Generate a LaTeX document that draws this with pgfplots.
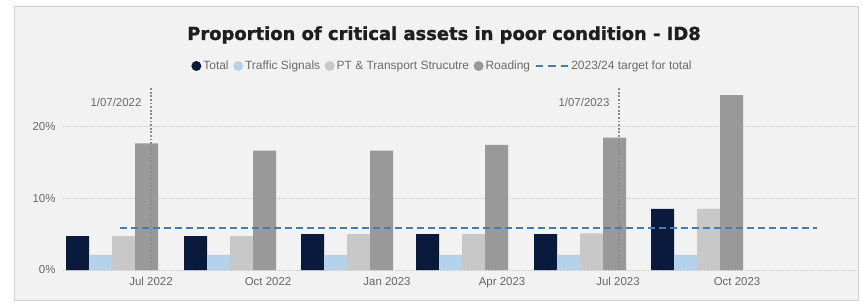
\documentclass[border=0pt]{standalone}
\usepackage{fontspec}
\setmainfont{Liberation Sans}
\newfontfamily\titlefont{DejaVu Sans Bold}[FakeBold=1.2]
\usepackage{pgfplots}
\pgfplotsset{compat=1.18}
\definecolor{bgc}{HTML}{F2F2F2}
\definecolor{framec}{HTML}{CFCFCF}
\definecolor{totalc}{HTML}{0A1A3C}
\definecolor{trafficc}{HTML}{B4D3EA}
\definecolor{ptc}{HTML}{C8C8C8}
\definecolor{roadc}{HTML}{999999}
\definecolor{targetc}{HTML}{3F7DB3}
\definecolor{gridc}{HTML}{D0D0D0}
\definecolor{tickc}{HTML}{666666}
\definecolor{vlinec}{HTML}{8C8C8C}
\definecolor{titlec}{HTML}{1E1E1E}
\definecolor{legc}{HTML}{6A6A6A}
\begin{document}
\begin{tikzpicture}[x=1bp,y=1bp]
\fill[white] (0,0) rectangle (863,-306);
\filldraw[fill=bgc, draw=framec, line width=1bp] (14,-6) rectangle (858,-300);
\node[font=\titlefont\fontsize{18}{21}\selectfont, text=titlec] at (444,-35) {Proportion of critical assets in poor condition - ID8};
\begin{axis}[
  at={(62bp,-270bp)}, anchor=south west,
  scale only axis, width=796bp, height=182bp,
  xmin=62, xmax=858, ymin=0, ymax=25.3,
  clip=false,
  axis line style={draw=none}, tick style={draw=none}, major tick length=0pt,
  xtick={151,268,387,502,618,737},
  xticklabels={Jul 2022,Oct 2022,Jan 2023,Apr 2023,Jul 2023,Oct 2023},
  ytick={0,10,20}, yticklabels={0\%,10\%,20\%},
  ymajorgrids, grid style={dash pattern=on 1.5bp off 1.5bp, color=gridc, line width=1bp},
  tick label style={font=\fontsize{11.5}{13}\selectfont, text=tickc},
  xticklabel style={yshift=-4bp},
  yticklabel style={xshift=-3bp},
  legend columns=-1,
  legend style={at={(0.478,1.121)}, anchor=center, draw=none, fill=none,
    font=\fontsize{12}{14}\selectfont, text=legc,
    /tikz/every even column/.append style={column sep=2.5bp}},
]
\addplot[ybar, bar width=23, bar shift=-34.5, fill=totalc, draw=none,
  legend image code/.code={\fill[totalc] (0,0) circle (5bp);}]
  coordinates {(112,4.7) (230,4.7) (347,5.0) (462,5.0) (580,5.0) (697,8.5)};
\addplot[ybar, bar width=23, bar shift=-11.5, fill=trafficc, draw=none,
  legend image code/.code={\fill[trafficc] (0,0) circle (5bp);}]
  coordinates {(112,2.1) (230,2.1) (347,2.1) (462,2.1) (580,2.1) (697,2.1)};
\addplot[ybar, bar width=23, bar shift=11.5, fill=ptc, draw=none,
  legend image code/.code={\fill[ptc] (0,0) circle (5bp);}]
  coordinates {(112,4.7) (230,4.7) (347,5.0) (462,5.0) (580,5.1) (697,8.5)};
\addplot[ybar, bar width=23, bar shift=34.5, fill=roadc, draw=none,
  legend image code/.code={\fill[roadc] (0,0) circle (5bp);}]
  coordinates {(112,17.6) (230,16.6) (347,16.6) (462,17.4) (580,18.4) (697,24.3)};
\addplot[color=targetc, line width=2.2bp, dash pattern=on 7bp off 4bp,
  legend image code/.code={\draw[targetc, line width=2.2bp, dash pattern=on 7.5bp off 5bp] (0,0) -- (32.5bp,0);}]
  coordinates {(120,5.8) (817,5.8)};
\addplot[forget plot, color=vlinec, line width=1.8bp, dash pattern=on 1.8bp off 1.8bp]
  coordinates {(151,0) (151,25.3)};
\addplot[forget plot, color=vlinec, line width=1.8bp, dash pattern=on 1.8bp off 1.8bp]
  coordinates {(619,0) (619,25.3)};
\node[anchor=east, font=\fontsize{11.5}{13}\selectfont, text=legc] at (axis cs:145,23.3) {1/07/2022};
\node[anchor=east, font=\fontsize{11.5}{13}\selectfont, text=legc] at (axis cs:613,23.3) {1/07/2023};
\legend{Total,Traffic Signals,PT \& Transport Strucutre,Roading,2023/24 target for total}
\end{axis}
\pgfresetboundingbox
\useasboundingbox (0,0) rectangle (863,-306);
\end{tikzpicture}
\end{document}
